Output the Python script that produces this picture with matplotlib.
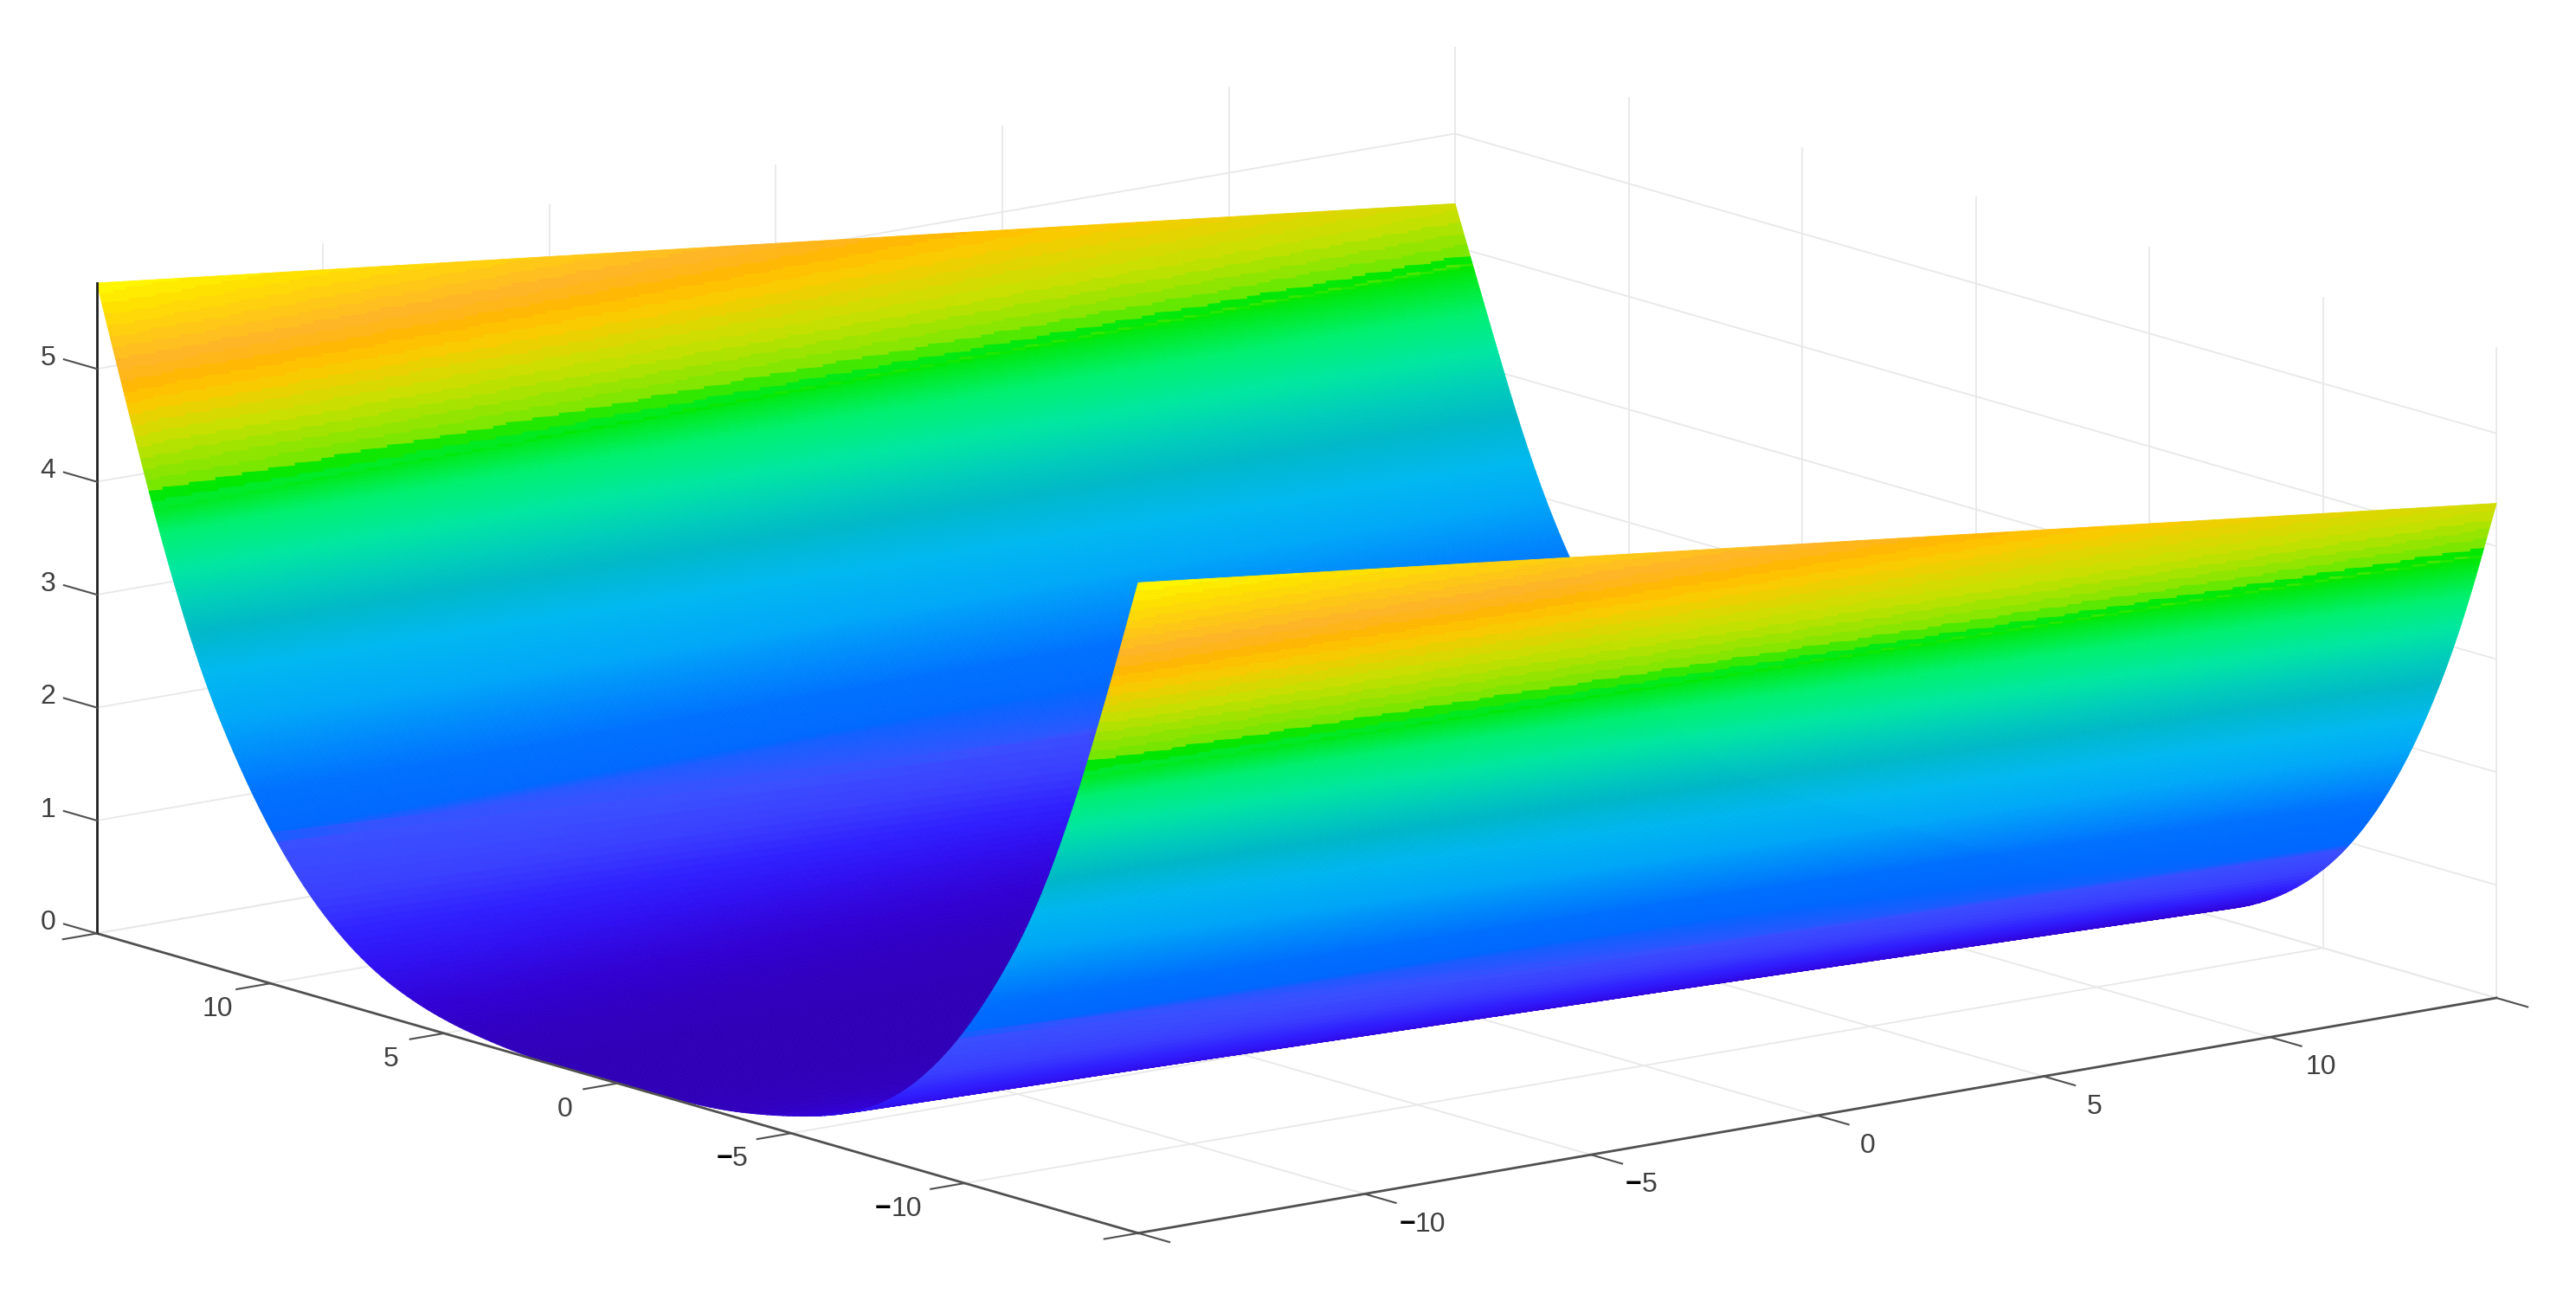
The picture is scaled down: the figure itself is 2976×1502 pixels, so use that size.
import numpy as np
import matplotlib
matplotlib.use('Agg')
import matplotlib.pyplot as plt
from matplotlib.colors import LinearSegmentedColormap
from mpl_toolkits.mplot3d import proj3d

plt.rcParams['font.family'] = ['Liberation Sans', 'DejaVu Sans']

# profile across the trough, read at the two ends of the surface
y_vals = [-15, -14, -13, -12, -11, -10, -9, -8, -7, -6, -5, -4, -3, -2, -1, 0,
          1, 2, 3, 4, 5, 6, 7, 8, 9, 10, 11, 12, 13, 14, 15]
z_front = [5.76, 4.55, 3.45, 2.55, 1.88, 1.33, 0.90, 0.58, 0.37, 0.24, 0.15, 0.08, 0.03, 0.01, 0.0, 0.0,
           0.0, 0.0, 0.02, 0.06, 0.12, 0.22, 0.37, 0.60, 0.92, 1.35, 1.90, 2.58, 3.50, 4.60, 5.76]
z_back = [4.38, 3.20, 2.30, 1.60, 1.07, 0.68, 0.40, 0.20, 0.07, 0.01, 0.0, 0.0, 0.0, 0.0, 0.0, 0.0,
          0.0, 0.0, 0.0, 0.0, 0.0, 0.01, 0.06, 0.19, 0.38, 0.70, 1.15, 1.70, 2.45, 3.40, 4.38]
x_ends = [-15, 15]

x_ticks = [-15, -10, -5, 0, 5, 10, 15]
y_ticks = [-15, -10, -5, 0, 5, 10, 15]
z_ticks = [0, 1, 2, 3, 4, 5]
z_top = 5.76

# colour stops and the height each one sits at, on the front and on the back end
band_colors = ['#3000b8', '#3200d0', '#3010f0', '#3020ff', '#3a40ff', '#3a50ff', '#0068ff', '#0070ff', '#00a8f8',
               '#00b8f0', '#00b8c8', '#00d0b8', '#00e8a0', '#00f070', '#00e800', '#70e800', '#c8e000', '#ffc800',
               '#ffb800', '#ffb428', '#ffe000', '#ffff00']
band_front = [0.0, 0.15, 0.38, 0.60, 0.87, 1.26, 1.34, 1.62, 2.20, 2.57, 2.89, 3.15, 3.40, 3.70, 3.98, 4.02,
              4.42, 4.72, 4.85, 5.02, 5.48, 5.76]
band_back = [0.0, 0.15, 0.38, 0.50, 0.70, 0.93, 1.00, 1.45, 1.99, 2.30, 2.66, 2.95, 3.20, 3.50, 3.87, 3.91,
             4.25, 4.72, 4.85, 5.02, 5.48, 5.76]


def fine_profile(yy, z):
    # resample for the mesh and take the kinks out of the read values
    ys = np.linspace(-15, 15, 1201)
    p = np.interp(ys, y_vals, z)
    k = 20
    p2 = np.pad(p, k, mode='reflect', reflect_type='odd')
    p3 = np.convolve(p2, np.ones(2 * k + 1) / (2 * k + 1), mode='valid')
    return np.interp(yy, ys, p3)


# mesh fine enough for the colour bands, densest on the steep walls
yy = np.concatenate([np.arange(-15, -10, 0.02), np.arange(-10, 10, 0.15), np.arange(10, 15.001, 0.02)])
xx = np.linspace(x_ends[0], x_ends[1], 101)
w = (xx - x_ends[0]) / (x_ends[1] - x_ends[0])
X, Y = np.meshgrid(xx, yy)
Z = np.outer(fine_profile(yy, z_front), 1 - w) + np.outer(fine_profile(yy, z_back), w)

n_band = len(band_colors)
cmap = LinearSegmentedColormap.from_list('surf', band_colors, N=1024)
Zc = 0.25 * (Z[:-1, :-1] + Z[1:, :-1] + Z[:-1, 1:] + Z[1:, 1:])
# the upper colours step in visible bands, the rest is smooth
Zq = np.where(Zc > 3.9, np.floor(Zc / 0.09) * 0.09, Zc)
idx = np.arange(n_band) / (n_band - 1)
wc = 0.5 * (w[:-1] + w[1:])
C = np.interp(Zq, band_front, idx) * (1 - wc) + np.interp(Zq, band_back, idx) * wc

fig = plt.figure(figsize=(29.76, 15.02), dpi=100)
A = 2812
ax = fig.add_axes([54 / 2976, -682 / 1502, A / 2976, A / 1502], projection='3d')
ax.set_proj_type('ortho')
ax.view_init(elev=12.9, azim=-127.8)
ax.set_box_aspect((1.0046, 0.993, 0.39))
ax.computed_zorder = False
ax.set_axis_off()
ax.set_xlim(-15, 15)
ax.set_ylim(-15, 15)
ax.set_zlim(0, z_top)

grid_c = '#e8e8e8'
for t in x_ticks:
    ax.plot([t, t], [-15, 15], [0, 0], color=grid_c, lw=1.3, zorder=1, clip_on=False)
    ax.plot([t, t], [15, 15], [0, z_top], color=grid_c, lw=1.3, zorder=1, clip_on=False)
for t in y_ticks:
    ax.plot([-15, 15], [t, t], [0, 0], color=grid_c, lw=1.3, zorder=1, clip_on=False)
    ax.plot([15, 15], [t, t], [0, z_top], color=grid_c, lw=1.3, zorder=1, clip_on=False)
for t in z_ticks:
    ax.plot([-15, 15], [15, 15], [t, t], color=grid_c, lw=1.3, zorder=1, clip_on=False)
    ax.plot([15, 15], [-15, 15], [t, t], color=grid_c, lw=1.3, zorder=1, clip_on=False)

surf = ax.plot_surface(X, Y, Z, facecolors=cmap(C), rstride=1, cstride=1, shade=False,
                       antialiased=True, linewidth=0.6, zorder=2)
surf.set_clip_on(False)

axis_c = '#505050'
ax.plot([-15, -15], [15, -15], [0, 0], color=axis_c, lw=2, zorder=3, clip_on=False)
ax.plot([-15, 15], [-15, -15], [0, 0], color=axis_c, lw=2, zorder=3, clip_on=False)
ax.plot([-15, -15], [15, 15], [0, z_top], color='#202020', lw=2, zorder=3, clip_on=False)
for t in y_ticks:
    ax.plot([-15, -15.75], [t, t], [0, 0], color=axis_c, lw=1.5, zorder=3, clip_on=False)
for t in x_ticks:
    ax.plot([t, t], [-15, -15.9], [0, 0], color=axis_c, lw=1.5, zorder=3, clip_on=False)
for t in z_ticks:
    ax.plot([-15, -15], [15, 15.95], [t, t], color=axis_c, lw=1.5, zorder=3, clip_on=False)


def tick_label(x, y, z, val, dpx=0):
    u, v, _ = proj3d.proj_transform(x, y, z, ax.get_proj())
    u = u + dpx * 0.185 / A
    kw = dict(fontsize=23, color='#404040', va='center', zorder=4)
    if val < 0:
        ax.text2D(u, v, str(-val), ha='left', transform=ax.transData, **kw)
        ax.text2D(u, v, '\u2212', ha='right', fontsize=23, color='black', fontweight='bold', va='center',
                  zorder=4, transform=ax.transData)
    else:
        ax.text2D(u, v, str(val), ha='center', transform=ax.transData, **kw)


for t in y_ticks[1:-1]:
    if t >= 0:
        tick_label(-16.3, t, -0.14, t, dpx=7)
    elif t == -10:
        tick_label(-16.3, t, -0.14, t, dpx=-17)
    else:
        tick_label(-16.3, t, -0.14, t)
for t in x_ticks[1:-1]:
    tick_label(t, -16.46, -0.14, t)
for t in z_ticks:
    tick_label(-15, 16.41, t - 0.03, t)

fig.savefig('out.png', dpi=100)
